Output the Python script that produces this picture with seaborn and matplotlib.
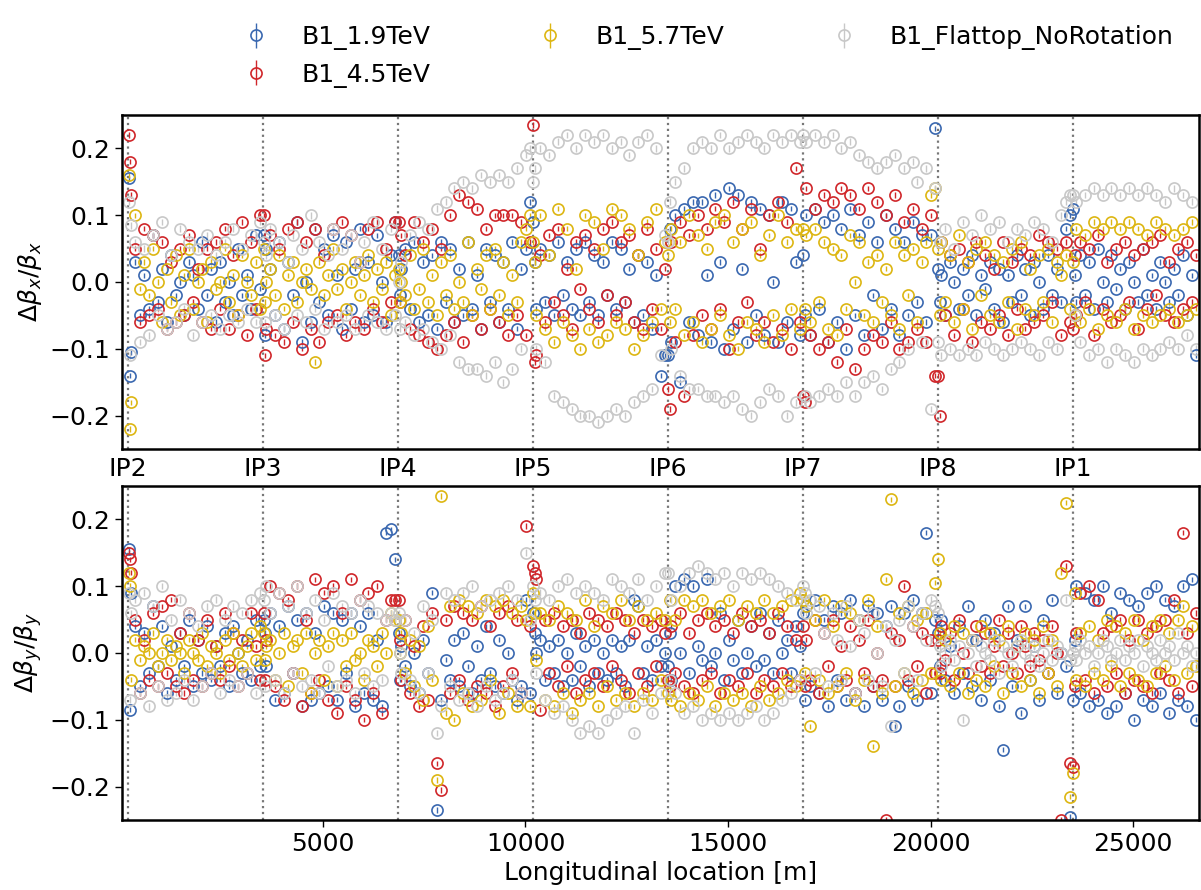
import matplotlib
matplotlib.use("Agg")
import numpy as np
import pandas as pd
import matplotlib.pyplot as plt
import seaborn as sns

sns.set_style("ticks")
plt.rcParams['font.family'] = ['DejaVu Sans']
plt.rcParams['mathtext.fontset'] = 'dejavusans'
for key in ["text.color", "axes.labelcolor", "xtick.color", "ytick.color"]:
    plt.rcParams[key] = "black"

# IP locations [m] and their names
ip_pos = [192, 3524, 6856, 10188, 13520, 16852, 20184, 23516]
ip_names = ["IP2", "IP3", "IP4", "IP5", "IP6", "IP7", "IP8", "IP1"]

beams = ["B1_1.9TeV", "B1_4.5TeV", "B1_5.7TeV", "B1_Flattop_NoRotation"]
beam_colors = ["#3a68b0", "#d0262a", "#ddb612", "#c8c8c8"]
beam_errs = [0.004, 0.004, 0.004, 0.005]

# BPM longitudinal positions [m]
s_bpm = [
    202, 232, 272, 372, 482, 592, 702, 812, 922, 1032, 1142, 1252, 1362, 1472, 1582, 1692,
    1802, 1912, 2022, 2132, 2242, 2352, 2462, 2572, 2682, 2792, 2902, 3012, 3122, 3232, 3342, 3452,
    3534, 3564, 3604, 3704, 3814, 3924, 4034, 4144, 4254, 4364, 4474, 4584, 4694, 4804, 4914, 5024,
    5134, 5244, 5354, 5464, 5574, 5684, 5794, 5904, 6014, 6124, 6234, 6344, 6454, 6564, 6674, 6784,
    6866, 6896, 6936, 7036, 7146, 7256, 7366, 7476, 7586, 7696, 7806, 7916, 8026, 8136, 8246, 8356,
    8466, 8576, 8686, 8796, 8906, 9016, 9126, 9236, 9346, 9456, 9566, 9676, 9786, 9896, 10006, 10116,
    10198, 10228, 10268, 10368, 10478, 10588, 10698, 10808, 10918, 11028, 11138, 11248, 11358, 11468, 11578, 11688,
    11798, 11908, 12018, 12128, 12238, 12348, 12458, 12568, 12678, 12788, 12898, 13008, 13118, 13228, 13338, 13448,
    13530, 13560, 13600, 13700, 13810, 13920, 14030, 14140, 14250, 14360, 14470, 14580, 14690, 14800, 14910, 15020,
    15130, 15240, 15350, 15460, 15570, 15680, 15790, 15900, 16010, 16120, 16230, 16340, 16450, 16560, 16670, 16780,
    16862, 16892, 16932, 17032, 17142, 17252, 17362, 17472, 17582, 17692, 17802, 17912, 18022, 18132, 18242, 18352,
    18462, 18572, 18682, 18792, 18902, 19012, 19122, 19232, 19342, 19452, 19562, 19672, 19782, 19892, 20002, 20112,
    20194, 20224, 20264, 20364, 20474, 20584, 20694, 20804, 20914, 21024, 21134, 21244, 21354, 21464, 21574, 21684,
    21794, 21904, 22014, 22124, 22234, 22344, 22454, 22564, 22674, 22784, 22894, 23004, 23114, 23224, 23334, 23444,
    23526, 23556, 23596, 23696, 23806, 23916, 24026, 24136, 24246, 24356, 24466, 24576, 24686, 24796, 24906, 25016,
    25126, 25236, 25346, 25456, 25566, 25676, 25786, 25896, 26006, 26116, 26226, 26336, 26446, 26556,
]

# horizontal beta-beating
bx_19 = [
    0.155, -0.14, -0.105, 0.03, -0.05, 0.01, -0.04, 0.07, -0.03, 0.02, -0.06, 0.04, -0.02, 0.0, -0.05, 0.03, 0.01, -0.04, 0.06, -0.02, 0.02, -0.06, 0.03, -0.03, 0.0, -0.05, 0.05, -0.02, 0.01, -0.04, 0.07, -0.01,
    0.07, -0.08, 0.05, 0.02, -0.05, 0.06, -0.07, 0.03, -0.02, 0.09, -0.09, 0.0, -0.06, 0.08, -0.03, 0.05, -0.05, 0.07, 0.01, -0.07, 0.06, -0.04, 0.02, 0.08, -0.06, 0.03, -0.05, 0.07, 0.0, -0.06, 0.04, 0.09,
    0.04, -0.02, 0.02, 0.05, -0.04, 0.06, -0.06, 0.03, -0.05, 0.04, -0.07, 0.06, -0.03, 0.05, -0.06, 0.02, -0.05, 0.06, -0.04, 0.01, -0.07, 0.05, -0.03, 0.04, -0.06, 0.03, -0.04, 0.06, -0.07, 0.02, 0.05, 0.12,
    0.09, 0.03, -0.04, 0.05, -0.03, 0.04, -0.05, 0.06, -0.02, 0.03, -0.04, 0.05, -0.05, 0.06, -0.03, 0.04, -0.05, 0.03, -0.02, 0.06, -0.04, 0.05, -0.03, 0.02, -0.06, 0.04, -0.05, 0.03, -0.07, 0.01, -0.14, -0.11,
    -0.11, 0.08, -0.09, 0.1, -0.15, 0.11, -0.06, 0.12, -0.08, 0.12, 0.01, -0.09, 0.13, 0.03, -0.1, 0.14, -0.07, 0.13, 0.02, -0.09, 0.12, -0.05, 0.11, -0.08, 0.1, 0.0, -0.09, 0.12, -0.06, 0.11, 0.03, -0.08,
    0.04, -0.05, 0.1, -0.08, 0.11, -0.04, 0.09, -0.09, 0.1, -0.06, 0.08, -0.1, 0.11, -0.05, 0.07, -0.08, 0.09, -0.02, 0.06, -0.07, 0.1, -0.04, 0.08, -0.08, 0.06, -0.05, 0.09, -0.03, 0.07, -0.06, 0.07, 0.23,
    0.02, -0.03, 0.01, -0.05, 0.03, 0.0, -0.04, 0.02, -0.02, 0.04, -0.05, 0.01, -0.01, 0.03, -0.04, 0.02, -0.06, 0.01, -0.03, 0.04, -0.02, 0.02, -0.05, 0.03, 0.0, -0.04, 0.04, -0.02, 0.02, -0.03, 0.08, 0.1,
    0.11, 0.01, -0.03, 0.04, -0.02, 0.03, -0.04, 0.05, 0.0, -0.03, 0.04, -0.01, 0.02, -0.04, 0.03, 0.0, -0.03, 0.05, -0.02, 0.01, -0.04, 0.03, 0.0, -0.03, 0.02, -0.02, 0.04, -0.05, 0.01, -0.11,
]
bx_45 = [
    0.22, 0.18, 0.13, 0.05, -0.06, 0.08, -0.05, 0.07, -0.04, 0.06, -0.07, 0.03, -0.06, 0.05, -0.05, 0.07, -0.03, 0.02, -0.06, 0.05, -0.07, 0.06, -0.04, 0.08, -0.07, 0.04, -0.05, 0.09, -0.08, 0.06, -0.04, 0.1,
    0.1, -0.11, -0.07, 0.07, -0.08, 0.05, -0.09, 0.08, -0.06, 0.09, -0.1, 0.06, -0.07, 0.08, -0.09, 0.04, -0.06, 0.08, -0.05, 0.09, -0.08, 0.07, -0.06, 0.03, -0.07, 0.08, -0.04, 0.09, -0.06, 0.05, -0.03, 0.09,
    0.09, -0.03, 0.07, 0.04, -0.07, 0.09, -0.08, 0.06, -0.09, 0.08, -0.1, 0.05, -0.08, 0.1, -0.06, 0.13, -0.09, 0.12, -0.05, 0.11, -0.07, 0.08, -0.04, 0.1, -0.06, 0.1, -0.08, 0.1, -0.05, 0.09, -0.08, 0.06,
    0.235, -0.12, -0.11, 0.04, -0.06, 0.07, -0.03, 0.08, -0.05, 0.02, -0.07, 0.06, -0.01, 0.07, -0.04, 0.05, -0.06, 0.08, -0.02, 0.09, -0.05, 0.06, -0.03, 0.07, -0.06, 0.04, -0.07, 0.08, -0.04, 0.05, -0.07, 0.02,
    -0.16, -0.19, 0.06, -0.09, 0.09, -0.17, 0.07, -0.08, 0.1, -0.05, 0.08, -0.07, 0.11, -0.04, 0.09, -0.1, 0.12, -0.06, 0.08, -0.03, 0.11, -0.08, 0.05, -0.06, 0.1, -0.09, 0.12, -0.07, 0.09, -0.1, 0.17, -0.06,
    -0.17, -0.18, 0.14, -0.08, 0.11, -0.1, 0.13, -0.09, 0.12, -0.12, 0.14, -0.07, 0.13, -0.13, 0.11, -0.1, 0.14, -0.08, 0.12, -0.09, 0.1, -0.06, 0.13, -0.1, 0.09, -0.09, 0.11, -0.07, 0.08, -0.09, 0.1, -0.14,
    -0.14, -0.2, 0.06, -0.05, 0.04, -0.08, 0.05, -0.04, 0.03, -0.09, 0.06, -0.06, 0.04, -0.07, 0.02, -0.05, 0.06, -0.08, 0.03, -0.04, 0.05, -0.07, 0.04, -0.06, 0.07, -0.05, 0.06, -0.03, 0.05, -0.08, 0.06, -0.06,
    -0.07, 0.04, -0.05, 0.06, -0.03, 0.05, -0.08, 0.07, -0.04, 0.03, -0.06, 0.05, -0.05, 0.06, -0.03, 0.04, -0.07, 0.05, -0.04, 0.06, -0.02, 0.07, -0.05, 0.03, -0.06, 0.05, -0.04, 0.06, -0.03, 0.04,
]
bx_57 = [
    0.16, -0.22, -0.18, 0.1, -0.01, 0.03, -0.02, 0.05, 0.0, -0.06, 0.02, -0.03, 0.04, -0.05, 0.01, 0.05, -0.04, 0.0, 0.02, -0.06, 0.03, -0.01, 0.0, 0.05, -0.03, 0.01, -0.05, 0.04, 0.0, -0.02, 0.03, -0.04,
    0.05, -0.03, 0.0, 0.02, -0.02, 0.04, -0.04, 0.01, 0.03, -0.03, 0.0, 0.02, -0.01, -0.12, 0.03, -0.02, 0.01, 0.05, -0.01, 0.02, -0.04, 0.0, 0.03, -0.02, 0.01, 0.04, -0.03, 0.02, -0.01, 0.03, -0.05, 0.01,
    0.02, -0.03, 0.0, -0.02, 0.04, -0.04, -0.01, 0.05, -0.03, 0.01, -0.05, 0.03, -0.02, 0.04, -0.04, 0.0, -0.03, 0.06, -0.05, 0.02, -0.01, 0.04, -0.04, 0.05, -0.02, 0.03, -0.05, 0.01, -0.03, 0.06, 0.08, 0.1,
    0.06, 0.03, -0.05, 0.1, -0.07, 0.04, -0.09, 0.11, -0.06, 0.08, -0.08, 0.02, -0.1, 0.1, -0.07, 0.09, -0.09, 0.05, -0.08, 0.11, -0.06, 0.1, -0.07, 0.08, -0.1, 0.04, -0.08, 0.09, -0.06, 0.11, -0.04, 0.06,
    0.04, -0.06, 0.08, -0.04, 0.06, -0.08, 0.1, -0.06, 0.07, -0.09, 0.05, -0.07, 0.09, -0.05, 0.1, -0.08, 0.06, -0.1, 0.08, -0.06, 0.09, -0.07, 0.04, -0.09, 0.07, -0.05, 0.1, -0.08, 0.06, -0.04, 0.08, -0.07,
    0.08, -0.04, 0.07, -0.06, 0.08, -0.03, 0.06, -0.07, 0.05, -0.08, 0.04, -0.04, 0.07, 0.0, 0.06, -0.05, 0.03, -0.06, 0.04, -0.03, 0.02, -0.05, 0.06, -0.07, 0.04, -0.02, 0.05, -0.06, 0.03, 0.06, 0.13, 0.14,
    0.05, -0.05, 0.06, -0.03, 0.04, -0.06, 0.07, -0.04, 0.03, -0.07, 0.05, -0.02, 0.06, -0.05, 0.04, -0.06, 0.03, -0.03, 0.05, -0.07, 0.06, -0.04, 0.02, -0.05, 0.04, -0.03, 0.05, -0.06, 0.03, 0.01, 0.04, -0.04,
    0.03, -0.05, 0.08, -0.06, 0.07, -0.04, 0.09, -0.07, 0.08, -0.05, 0.09, -0.06, 0.08, -0.04, 0.09, -0.07, 0.08, -0.05, 0.07, -0.06, 0.09, -0.05, 0.08, -0.04, 0.07, -0.06, 0.08, -0.05, 0.09, -0.04,
]
bx_ft = [
    0.12, -0.11, 0.085, 0.06, -0.09, 0.05, -0.08, 0.07, -0.05, 0.09, -0.07, 0.04, -0.06, 0.08, -0.04, 0.06, -0.08, 0.05, -0.06, 0.07, -0.05, 0.04, -0.07, 0.06, -0.05, 0.08, -0.06, 0.05, -0.04, 0.07, -0.06, 0.09,
    0.06, -0.06, 0.04, 0.08, -0.05, 0.06, -0.07, 0.03, 0.07, -0.05, 0.05, -0.06, 0.1, -0.04, 0.06, -0.07, 0.04, 0.08, -0.06, 0.05, -0.05, 0.07, -0.07, 0.03, 0.06, -0.05, 0.09, -0.06, 0.05, -0.07, 0.08, -0.05,
    0.0, -0.07, 0.03, -0.06, 0.07, -0.08, 0.09, -0.07, 0.08, -0.09, 0.11, -0.1, 0.12, -0.08, 0.14, -0.12, 0.15, -0.13, 0.14, -0.13, 0.16, -0.14, 0.15, -0.12, 0.16, -0.15, 0.15, -0.13, 0.17, -0.1, 0.19, 0.2,
    0.15, 0.17, -0.1, 0.2, -0.12, 0.19, -0.17, 0.21, -0.18, 0.22, -0.19, 0.2, -0.2, 0.22, -0.2, 0.21, -0.21, 0.22, -0.2, 0.2, -0.19, 0.21, -0.2, 0.19, -0.18, 0.21, -0.17, 0.22, -0.16, 0.2, -0.11, 0.07,
    0.06, 0.12, -0.1, 0.15, -0.14, 0.17, -0.16, 0.2, -0.16, 0.21, -0.17, 0.2, -0.17, 0.22, -0.18, 0.2, -0.17, 0.21, -0.19, 0.22, -0.2, 0.21, -0.18, 0.2, -0.16, 0.22, -0.17, 0.21, -0.2, 0.22, -0.18, 0.21,
    0.22, -0.17, 0.21, -0.18, 0.22, -0.17, 0.21, -0.16, 0.22, -0.17, 0.2, -0.15, 0.21, -0.17, 0.19, -0.15, 0.18, -0.14, 0.17, -0.16, 0.18, -0.13, 0.19, -0.12, 0.17, -0.1, 0.18, 0.15, -0.09, 0.17, -0.19, 0.14,
    -0.09, 0.06, -0.11, 0.08, -0.1, 0.05, -0.11, 0.09, -0.1, 0.07, -0.11, 0.1, -0.09, 0.08, -0.1, 0.09, -0.11, 0.06, -0.1, 0.08, -0.09, 0.07, -0.1, 0.09, -0.11, 0.08, -0.09, 0.06, -0.1, 0.1, 0.12, 0.13,
    0.13, -0.05, 0.12, -0.09, 0.13, -0.11, 0.14, -0.1, 0.13, -0.12, 0.14, -0.1, 0.13, -0.11, 0.14, -0.12, 0.13, -0.1, 0.14, -0.11, 0.13, -0.1, 0.12, -0.09, 0.14, -0.1, 0.13, -0.08, 0.12, -0.1,
]

# vertical beta-beating
by_19 = [
    0.155, -0.085, 0.09, 0.04, -0.05, 0.03, -0.03, 0.07, -0.02, 0.04, -0.06, 0.01, -0.04, 0.03, -0.02, 0.05, -0.05, 0.02, -0.03, 0.04, -0.04, 0.01, -0.02, 0.03, -0.05, 0.04, 0.0, -0.03, 0.02, -0.04, 0.05, -0.02,
    0.05, 0.03, -0.02, 0.06, -0.07, 0.04, -0.06, 0.07, -0.03, 0.05, -0.08, 0.06, -0.07, 0.03, -0.06, 0.07, -0.05, 0.06, -0.07, 0.05, -0.03, 0.06, -0.08, 0.04, -0.06, 0.06, -0.07, 0.02, -0.08, 0.18, 0.185, 0.14,
    0.03, -0.04, 0.01, -0.02, -0.05, 0.0, -0.06, 0.02, -0.03, 0.09, -0.235, -0.07, -0.01, -0.04, 0.02, -0.05, 0.03, -0.02, -0.06, 0.01, -0.04, 0.04, -0.03, -0.05, 0.02, -0.06, 0.0, -0.04, -0.07, -0.05, 0.08, -0.06,
    0.06, 0.03, 0.0, 0.02, -0.04, 0.01, -0.03, 0.02, -0.05, 0.0, -0.04, 0.03, -0.02, 0.01, -0.05, 0.02, -0.03, 0.0, -0.04, 0.02, -0.03, 0.01, -0.05, 0.02, 0.08, 0.07, -0.03, 0.01, -0.04, 0.02, -0.02, 0.0,
    -0.02, 0.03, -0.04, 0.1, 0.0, 0.11, -0.03, 0.1, 0.01, -0.01, 0.11, -0.02, 0.0, 0.06, -0.04, 0.02, -0.01, 0.05, -0.03, 0.0, 0.04, -0.02, 0.06, -0.01, 0.03, -0.03, 0.05, 0.0, 0.02, -0.03, 0.04, 0.01,
    0.06, -0.07, 0.07, -0.05, 0.08, -0.06, 0.05, -0.08, 0.07, -0.04, 0.06, -0.07, 0.08, -0.06, 0.05, -0.08, 0.07, -0.05, 0.06, -0.07, 0.04, 0.07, -0.11, -0.08, 0.06, -0.05, 0.08, -0.07, 0.06, 0.18, -0.06, 0.05,
    0.03, -0.02, 0.05, -0.04, 0.01, -0.06, 0.04, -0.03, 0.07, -0.05, 0.02, -0.07, 0.05, -0.04, 0.03, -0.08, -0.145, 0.07, -0.05, 0.02, -0.09, 0.07, -0.04, 0.01, -0.07, 0.05, -0.03, 0.08, -0.06, 0.0, -0.02, -0.245,
    -0.07, 0.02, 0.1, -0.06, 0.09, -0.08, 0.08, -0.07, 0.1, -0.09, 0.06, -0.08, 0.09, -0.06, 0.08, -0.1, 0.07, -0.07, 0.09, -0.08, 0.1, -0.06, 0.08, -0.09, 0.07, -0.07, 0.1, -0.08, 0.11, -0.1,
]
by_45 = [
    0.15, 0.14, 0.12, 0.05, -0.06, 0.02, -0.04, 0.06, -0.05, 0.07, -0.03, 0.08, -0.05, 0.03, -0.06, 0.06, -0.04, 0.02, -0.05, 0.05, -0.03, 0.01, -0.04, 0.06, -0.02, 0.03, -0.05, 0.02, -0.03, 0.06, 0.01, -0.04,
    0.06, -0.04, 0.02, 0.1, -0.05, 0.09, -0.07, 0.08, -0.03, 0.1, -0.08, 0.05, -0.06, 0.11, -0.04, 0.09, -0.07, 0.1, -0.09, 0.06, -0.05, 0.11, -0.07, 0.08, -0.1, 0.09, -0.06, 0.1, -0.09, 0.05, 0.08, 0.08,
    0.08, 0.02, -0.04, 0.05, -0.06, 0.01, -0.08, 0.04, -0.07, 0.06, -0.165, -0.205, 0.05, -0.06, 0.07, -0.04, 0.06, -0.07, 0.05, -0.05, 0.07, -0.06, 0.04, -0.08, 0.06, -0.05, 0.07, -0.03, 0.05, -0.06, 0.19, 0.04,
    0.13, 0.12, 0.11, -0.085, 0.05, -0.03, 0.06, -0.05, 0.04, -0.02, 0.05, -0.06, 0.03, -0.04, 0.06, -0.03, 0.05, -0.05, 0.04, -0.02, 0.06, -0.04, 0.05, -0.06, 0.03, -0.03, 0.05, -0.05, 0.04, -0.02, 0.05, 0.03,
    -0.04, -0.05, 0.04, -0.03, 0.06, -0.05, 0.03, -0.06, 0.05, -0.04, 0.06, -0.03, 0.04, -0.06, 0.05, -0.04, 0.03, -0.05, 0.06, -0.03, 0.04, -0.06, 0.05, -0.04, 0.03, -0.05, 0.06, -0.03, 0.04, -0.05, 0.02, -0.04,
    0.04, -0.05, 0.02, -0.04, 0.05, -0.06, 0.03, -0.02, 0.05, -0.05, 0.01, -0.04, 0.04, -0.06, 0.02, -0.03, 0.05, -0.05, 0.0, -0.04, -0.25, 0.03, -0.05, 0.02, 0.1, -0.04, 0.04, -0.02, 0.03, -0.06, 0.02, -0.03,
    0.02, -0.03, 0.04, -0.01, 0.03, -0.04, 0.05, 0.0, -0.03, 0.02, 0.04, -0.02, 0.03, -0.03, 0.01, 0.05, -0.02, 0.03, 0.0, -0.03, 0.04, 0.01, -0.02, 0.03, -0.01, 0.02, -0.03, 0.04, 0.0, -0.25, 0.13, -0.165,
    -0.17, -0.05, 0.03, 0.09, -0.04, 0.1, -0.06, 0.08, 0.03, -0.05, 0.04, -0.03, 0.05, -0.06, 0.02, -0.04, 0.05, -0.05, 0.03, -0.06, 0.04, -0.03, 0.05, -0.04, 0.08, -0.06, 0.18, 0.03, -0.05, 0.06,
]
by_57 = [
    0.12, 0.1, -0.04, 0.02, -0.01, 0.01, 0.0, 0.03, -0.02, 0.0, 0.02, -0.01, 0.01, 0.0, -0.03, 0.02, 0.0, -0.01, 0.03, -0.02, 0.01, 0.0, -0.03, 0.02, -0.01, 0.03, 0.0, -0.02, 0.01, 0.03, -0.01, 0.04,
    0.03, -0.01, 0.01, 0.02, -0.04, 0.0, 0.03, -0.05, 0.01, 0.02, -0.03, 0.03, -0.06, 0.0, 0.02, -0.04, 0.01, 0.03, -0.05, 0.02, -0.02, 0.03, -0.01, 0.0, -0.04, 0.02, 0.01, -0.02, 0.03, 0.0, 0.06, 0.05,
    0.05, 0.0, 0.03, -0.03, 0.02, -0.05, 0.01, -0.07, 0.04, -0.04, -0.19, 0.235, -0.09, 0.07, -0.1, 0.08, -0.06, 0.07, -0.08, 0.06, -0.07, 0.08, -0.04, 0.07, -0.09, 0.08, -0.06, 0.06, -0.08, 0.07, 0.05, -0.08,
    0.09, 0.06, -0.01, 0.06, -0.07, 0.05, -0.08, 0.07, -0.06, 0.06, -0.09, 0.05, -0.07, 0.08, -0.06, 0.04, -0.08, 0.07, -0.05, 0.06, -0.07, 0.08, -0.06, 0.05, -0.08, 0.07, -0.06, 0.05, -0.07, 0.06, -0.04, 0.05,
    -0.06, 0.08, -0.07, 0.05, -0.08, 0.08, -0.06, 0.07, -0.07, 0.08, -0.05, 0.06, -0.08, 0.07, -0.06, 0.08, -0.07, 0.05, -0.06, 0.07, -0.08, 0.06, -0.05, 0.08, -0.07, 0.06, -0.06, 0.07, -0.04, 0.08, -0.05, 0.09,
    0.08, -0.03, 0.07, -0.11, 0.05, -0.04, 0.08, -0.06, 0.04, -0.05, 0.07, -0.03, 0.06, -0.07, 0.05, -0.04, 0.08, -0.14, 0.04, -0.06, 0.11, 0.23, -0.05, 0.06, -0.03, 0.07, -0.06, 0.05, -0.04, 0.06, -0.03, 0.105,
    0.14, 0.03, -0.04, 0.02, -0.05, 0.04, -0.03, 0.03, -0.06, 0.02, -0.04, 0.04, -0.05, 0.03, -0.02, 0.02, -0.06, 0.04, -0.03, 0.01, -0.05, 0.03, -0.04, 0.02, -0.06, 0.04, -0.03, 0.02, -0.05, 0.12, 0.225, -0.215,
    -0.18, 0.09, -0.04, 0.03, -0.05, 0.04, -0.03, 0.02, -0.04, 0.05, -0.02, 0.04, -0.05, 0.03, -0.03, 0.05, -0.04, 0.02, -0.05, 0.04, -0.03, 0.05, -0.02, 0.03, -0.04, 0.05, 0.07, -0.03, 0.04, -0.02,
]
by_ft = [
    0.09, -0.07, 0.06, 0.08, -0.06, 0.09, -0.08, 0.07, -0.05, 0.1, -0.07, 0.05, -0.06, 0.08, -0.04, 0.06, -0.07, 0.04, -0.05, 0.07, -0.03, 0.08, -0.06, 0.05, -0.04, 0.07, -0.05, 0.06, -0.03, 0.08, -0.06, 0.09,
    0.08, -0.05, 0.1, 0.06, -0.04, 0.09, -0.06, 0.07, -0.03, 0.1, -0.05, 0.06, -0.04, 0.08, -0.06, 0.05, -0.02, 0.09, -0.05, 0.07, -0.04, 0.06, -0.06, 0.08, -0.03, 0.07, -0.05, 0.06, -0.04, 0.05, 0.06, 0.05,
    0.06, 0.0, -0.03, 0.05, -0.04, 0.03, -0.06, 0.07, -0.03, 0.05, -0.12, -0.08, 0.09, -0.05, 0.08, -0.07, 0.09, -0.06, 0.1, -0.08, 0.07, -0.05, 0.08, -0.07, 0.09, -0.06, 0.1, -0.04, 0.08, -0.06, 0.15, 0.05,
    0.1, 0.08, -0.03, 0.09, -0.07, 0.08, -0.09, 0.1, -0.08, 0.11, -0.1, 0.09, -0.12, 0.1, -0.11, 0.09, -0.12, 0.08, -0.1, 0.11, -0.09, 0.1, -0.08, 0.09, -0.12, 0.11, -0.07, 0.08, -0.09, 0.1, -0.06, 0.12,
    0.12, -0.04, 0.08, -0.06, 0.1, -0.09, 0.12, -0.08, 0.13, -0.1, 0.12, -0.09, 0.11, -0.1, 0.12, -0.09, 0.1, -0.1, 0.12, -0.09, 0.11, -0.08, 0.12, -0.1, 0.11, -0.09, 0.1, -0.07, 0.09, -0.06, 0.08, -0.04,
    0.1, 0.09, 0.06, 0.08, -0.03, 0.07, 0.03, -0.05, 0.06, 0.02, -0.04, 0.07, 0.01, -0.06, 0.05, 0.03, -0.04, 0.06, 0.0, -0.05, 0.04, -0.11, 0.02, 0.05, -0.03, 0.07, 0.04, -0.04, 0.06, 0.02, 0.08, 0.07,
    0.06, 0.01, -0.02, 0.0, 0.02, -0.01, 0.01, -0.1, 0.0, 0.02, -0.02, 0.01, 0.0, -0.01, 0.02, -0.03, 0.01, 0.0, -0.02, 0.01, 0.02, 0.0, -0.01, 0.01, -0.02, 0.0, 0.02, -0.01, 0.01, 0.0, 0.08, -0.01,
    0.0, 0.01, -0.01, 0.02, 0.0, 0.01, -0.02, 0.0, 0.02, 0.01, -0.01, 0.0, 0.02, -0.01, 0.01, 0.0, 0.02, -0.02, 0.01, 0.0, -0.01, 0.02, 0.0, 0.01, -0.01, 0.03, 0.0, 0.01, -0.02, 0.0,
]

rows = []
for beam, bx, by in zip(beams, [bx_19, bx_45, bx_57, bx_ft], [by_19, by_45, by_57, by_ft]):
    rows.append(pd.DataFrame({"s": s_bpm, "beam": beam, "dbx": bx, "dby": by}))
df = pd.concat(rows, ignore_index=True)

palette = dict(zip(beams, sns.color_palette(beam_colors)))

fig = plt.figure(figsize=(12.01, 8.9), dpi=100)
ax1 = fig.add_axes([0.1016, 0.4955, 0.8968, 0.3753])
ax2 = fig.add_axes([0.1016, 0.0787, 0.8968, 0.3753])

for ax, col in [(ax1, "dbx"), (ax2, "dby")]:
    for ip in ip_pos:
        ax.axvline(ip, color="#777777", ls=":", lw=1.6, zorder=0)
    for beam, err in zip(beams, beam_errs):
        sub = df[df["beam"] == beam]
        ax.errorbar(sub["s"], sub[col], yerr=err, fmt="o", ms=8, mfc="none",
                    mec=palette[beam], mew=1.2, ecolor=palette[beam], elinewidth=1.0,
                    capsize=0, label=beam)
    ax.set_xlim(40, 26630)
    ax.set_ylim(-0.25, 0.25)
    ax.set_yticks([-0.2, -0.1, 0.0, 0.1, 0.2])
    ax.tick_params(axis="both", labelsize=18, width=1.0, length=5)
    for sp in ax.spines.values():
        sp.set_linewidth(1.8)
        sp.set_color("black")

ax1.set_ylabel(r"$\Delta\beta_x/\beta_x$", fontsize=18)
ax2.set_ylabel(r"$\Delta\beta_y/\beta_y$", fontsize=18)
ax2.set_xlabel("Longitudinal location [m]", fontsize=18)

# IP names on the upper panel instead of numbers
ax1.set_xticks(ip_pos)
ax1.set_xticklabels(ip_names)
ax1.tick_params(axis="x", length=0, pad=6)
ax2.set_xticks([5000, 10000, 15000, 20000, 25000])

handles, labels = ax1.get_legend_handles_labels()
fig.legend(handles, labels, loc="upper left", bbox_to_anchor=(0.174, 0.997), ncol=3,
           frameon=False, fontsize=18, columnspacing=3.8, handletextpad=0.8)

fig.savefig("out.png", dpi=100)
